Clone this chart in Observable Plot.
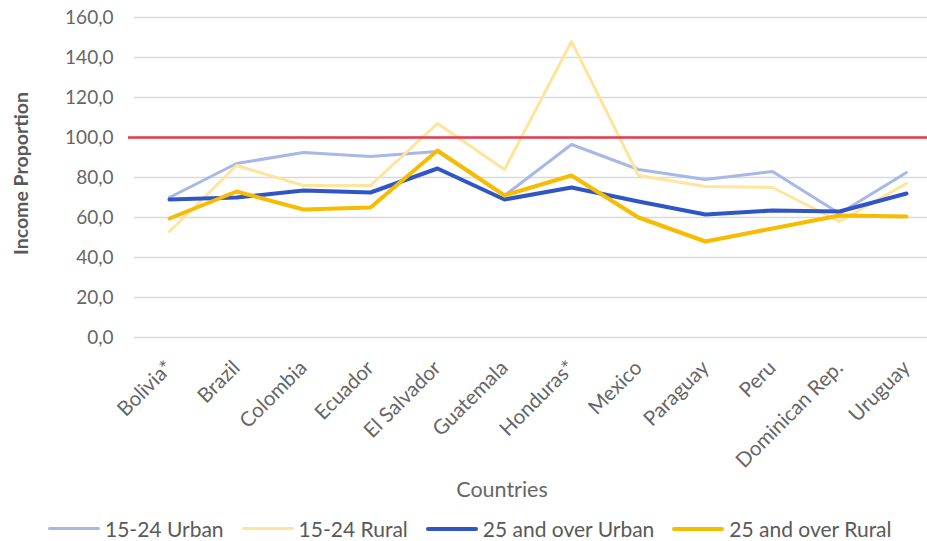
<!DOCTYPE html>
<html>
<head>
<meta charset="utf-8">
<script src="https://cdn.jsdelivr.net/npm/d3@7"></script>
<script src="https://cdn.jsdelivr.net/npm/@observablehq/plot@0.6"></script>
<style>
  html, body { margin: 0; padding: 0; background: #ffffff; }
  #chart { width: 927px; height: 541px; overflow: hidden; font-family: Lato, "Open Sans", sans-serif; }
  .legend { display: flex; align-items: center; height: 29px; padding-left: 48px; padding-top: 2px; font-size: 21px; color: #595959; white-space: nowrap; }
  .legend .item { display: flex; align-items: center; margin-right: 18px; }
  .legend .swatch { display: inline-block; width: 52px; margin-right: 5px; border-radius: 2px; }
</style>
</head>
<body>
<div id="chart"></div>
<script>
// Countries along the x axis
const countries = ["Bolivia*", "Brazil", "Colombia", "Ecuador", "El Salvador", "Guatemala",
  "Honduras*", "Mexico", "Paraguay", "Peru", "Dominican Rep.", "Uruguay"];

// Income proportion by age group and area
const youthUrban = [70, 87, 92.5, 90.5, 93, 71, 96.5, 84, 79, 83, 62, 82.5];
const youthRural = [53, 86, 76, 76, 107, 84, 148, 81, 75.5, 75, 58, 77];
const adultUrban = [69, 70, 73.5, 72.5, 84.5, 69, 75, 68, 61.5, 63.5, 63, 72];
const adultRural = [59.5, 73, 64, 65, 93.5, 71, 81, 60, 48, 54.5, 61, 60.5];

// Series names and colours
const seriesNames = ["15-24 Urban", "15-24 Rural", "25 and over Urban", "25 and over Rural"];
const seriesColors = ["#a7b8e6", "#fee49c", "#3056c6", "#f7bc00"];
const seriesWidths = [3, 3, 4, 4];

// Y axis ticks and the parity reference level
const yTicks = [0, 20, 40, 60, 80, 100, 120, 140, 160];
const parity = 100;

const seriesValues = [youthUrban, youthRural, adultUrban, adultRural];
const rows = (i) => countries.map((c, j) => ({country: c, value: seriesValues[i][j], series: seriesNames[i]}));

const lineMarks = seriesNames.map((name, i) =>
  Plot.line(rows(i), {
    x: "country", y: "value",
    stroke: seriesColors[i], strokeWidth: seriesWidths[i],
    strokeLinejoin: "round", strokeLinecap: "round"
  })
);

const plot = Plot.plot({
  width: 927,
  height: 512,
  marginTop: 17,
  marginBottom: 175,
  marginLeft: 134,
  marginRight: 0,
  style: {fontFamily: "Lato, 'Open Sans', sans-serif", color: "#666666", background: "#ffffff", overflow: "visible"},
  x: {type: "point", domain: countries, range: [168, 907], padding: 0},
  y: {domain: [0, 160]},
  marks: [
    Plot.gridY(yTicks, {stroke: "#d9d9d9", strokeOpacity: 1, strokeWidth: 1.6}),
    Plot.axisY(yTicks, {
      tickSize: 0, tickPadding: 21, fontSize: 19, label: null,
      tickFormat: (d) => d.toFixed(1).replace(".", ",")
    }),
    Plot.axisX({tickSize: 0, tickRotate: -45, tickPadding: 20, dy: 7, fontSize: 20.5, label: null}),
    ...lineMarks,
    Plot.ruleY([parity], {stroke: "#e8384f", strokeWidth: 2.5, insetLeft: -6}),
    Plot.text(["Countries"], {text: (d) => d, frameAnchor: "bottom", lineAnchor: "middle", dx: -29, dy: 153, fontSize: 21.5, fill: "#666666"}),
    Plot.text(["Income Proportion"], {text: (d) => d, frameAnchor: "left", textAnchor: "middle", lineAnchor: "middle", dx: -113, dy: -4, rotate: -90, fontSize: 19.5, fontWeight: 700, fill: "#595959"})
  ]
});

const chart = document.getElementById("chart");
chart.appendChild(plot);

// Legend below the plot
const legend = document.createElement("div");
legend.className = "legend";
seriesNames.forEach((name, i) => {
  const item = document.createElement("span");
  item.className = "item";
  const sw = document.createElement("span");
  sw.className = "swatch";
  sw.style.background = seriesColors[i];
  sw.style.height = seriesWidths[i] + "px";
  const label = document.createElement("span");
  label.textContent = name;
  item.appendChild(sw);
  item.appendChild(label);
  legend.appendChild(item);
});
chart.appendChild(legend);
</script>
</body>
</html>
